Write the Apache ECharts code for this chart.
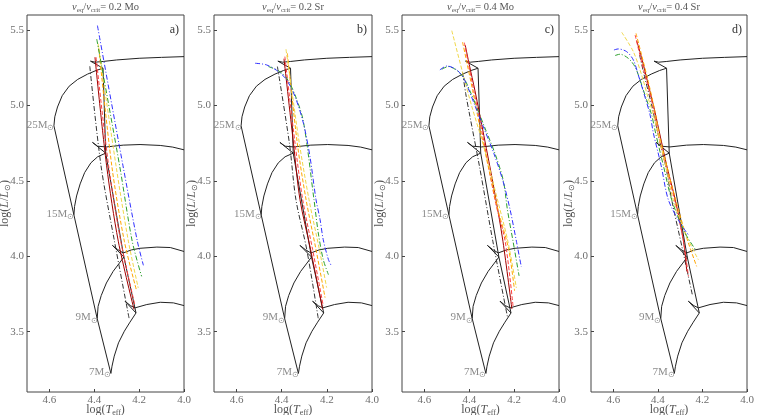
<!DOCTYPE html>
<html><head><meta charset="utf-8">
<script src="https://cdn.jsdelivr.net/npm/echarts@6/dist/echarts.min.js"></script>
<style>html,body{margin:0;padding:0;background:#fff}#c{width:760px;height:415px}</style>
</head><body><div id="c"></div>
<script>
// ---- data (log Teff, log L) ----
const xTicks = [4.0, 4.2, 4.4, 4.6];
const yTicks = [3.5, 4.0, 4.5, 5.0, 5.5];
const panelTitles = ['0.2 Mo', '0.2 Sr', '0.4 Mo', '0.4 Sr'];
const panelLetters = ['a)', 'b)', 'c)', 'd)'];
const massLabels = ['25M', '15M', '9M', '7M'];

const track25 = [[4.580,4.865],[4.576,4.925],[4.564,4.99],[4.543,5.065],[4.512,5.128],[4.474,5.173],[4.43,5.208],[4.392,5.232],[4.361,5.247],[4.417,5.294],[4.396,5.287],[4.36,5.292],[4.30,5.302],[4.2,5.313],[4.1,5.319],[4.0,5.324]];
const track15 = [[4.491,4.275],[4.488,4.33],[4.479,4.40],[4.463,4.48],[4.443,4.555],[4.415,4.62],[4.385,4.66],[4.349,4.684],[4.408,4.755],[4.385,4.73],[4.346,4.725],[4.271,4.737],[4.196,4.741],[4.106,4.735],[4.05,4.724],[4.0,4.706]];
const track9 = [[4.387,3.587],[4.383,3.668],[4.369,3.74],[4.346,3.823],[4.316,3.90],[4.288,3.955],[4.268,3.995],[4.319,4.072],[4.296,4.045],[4.271,4.022],[4.235,4.042],[4.196,4.053],[4.121,4.061],[4.061,4.058],[4.0,4.032]];
const track7 = [[4.326,3.223],[4.321,3.271],[4.311,3.338],[4.292,3.426],[4.266,3.503],[4.241,3.563],[4.214,3.624],[4.263,3.702],[4.238,3.672],[4.218,3.658],[4.166,3.680],[4.106,3.695],[4.047,3.691],[4.0,3.673]];
const zams = [[4.580,4.865],[4.491,4.275],[4.387,3.587],[4.326,3.223]];
const tams = [[4.361,5.247],[4.349,4.684],[4.268,3.995],[4.214,3.624]];

// order: black, darkred, red, orange, yellow, green, blue
const lineColors = ['#333333','#a00000','#ff4040','#ffa500','#f0d84a','#2ca02c','#3030ff'];
const lineDash = [[5,2,1,2],'solid',[4,2],[4,2],[4,2],[5,2,1,2],[5,2,1,2]];

const linesA = [
  [[4.42,5.26],[4.37,4.6],[4.31,4.1],[4.245,3.59]],
  [[4.397,5.32],[4.345,4.6],[4.293,4.1],[4.223,3.648]],
  [[4.392,5.32],[4.336,4.6],[4.282,4.1],[4.218,3.67]],
  [[4.38,5.38],[4.322,4.6],[4.266,4.1],[4.211,3.77]],
  [[4.383,5.41],[4.303,4.6],[4.248,4.1],[4.204,3.79]],
  [[4.389,5.44],[4.287,4.6],[4.231,4.1],[4.189,3.867]],
  [[4.386,5.53],[4.272,4.6],[4.208,4.1],[4.181,3.94]]
];
const linesB = [
  [[4.419,5.258],[4.366,4.75],[4.337,4.375],[4.289,4.044],[4.238,3.587]],
  [[4.39,5.31],[4.348,4.75],[4.319,4.375],[4.272,4.044],[4.219,3.649]],
  [[4.386,5.324],[4.341,4.75],[4.307,4.375],[4.263,4.044],[4.216,3.671]],
  [[4.375,5.346],[4.331,4.75],[4.292,4.375],[4.248,4.044],[4.208,3.726]],
  [[4.381,5.373],[4.36,5.15],[4.322,4.75],[4.279,4.375],[4.233,4.044],[4.201,3.792]],
  [[4.459,5.258],[4.415,5.231],[4.378,5.181],[4.341,5.07],[4.304,4.894],[4.257,4.375],[4.238,4.155],[4.216,3.978],[4.193,3.878]],
  [[4.518,5.28],[4.467,5.269],[4.415,5.225],[4.378,5.17],[4.341,5.059],[4.304,4.883],[4.275,4.662],[4.248,4.375],[4.23,4.243],[4.216,4.11],[4.193,3.978],[4.179,3.934]]
];
const linesC = [
  [[4.43,5.22],[4.416,5.08],[4.40,4.95],[4.355,4.6],[4.295,4.1],[4.23,3.6]],
  [[4.418,5.40],[4.40,5.27],[4.375,5.1],[4.335,4.8],[4.29,4.45],[4.25,4.1],[4.21,3.65]],
  [[4.422,5.417],[4.404,5.28],[4.38,5.1],[4.34,4.8],[4.282,4.35],[4.24,4.1],[4.205,3.67]],
  [[4.43,5.42],[4.41,5.28],[4.385,5.1],[4.345,4.8],[4.272,4.309],[4.225,4.05],[4.198,3.77]],
  [[4.478,5.496],[4.43,5.22],[4.39,5.0],[4.33,4.7],[4.27,4.35],[4.228,4.1],[4.19,3.79]],
  [[4.523,5.24],[4.493,5.258],[4.449,5.225],[4.42,5.17],[4.398,5.10],[4.37,5.0],[4.33,4.85],[4.285,4.68],[4.248,4.5],[4.23,4.309],[4.205,4.1],[4.178,3.87]],
  [[4.531,5.236],[4.50,5.262],[4.456,5.236],[4.427,5.185],[4.404,5.11],[4.375,5.0],[4.335,4.85],[4.29,4.68],[4.25,4.5],[4.218,4.309],[4.19,4.1],[4.168,3.93]]
];
const linesD = [
  [[4.482,5.335],[4.458,5.181],[4.428,5.004],[4.40,4.816],[4.365,4.6],[4.338,4.375],[4.29,4.05],[4.244,3.736]],
  [[4.495,5.43],[4.47,5.3],[4.445,5.15],[4.415,4.97],[4.36,4.6],[4.322,4.375],[4.285,4.1],[4.27,3.9]],
  [[4.502,5.467],[4.477,5.313],[4.45,5.159],[4.42,4.982],[4.40,4.816],[4.365,4.6],[4.325,4.375],[4.285,4.1],[4.263,3.867]],
  [[4.498,5.478],[4.473,5.335],[4.443,5.159],[4.413,4.96],[4.395,4.816],[4.36,4.6],[4.32,4.375],[4.27,4.12],[4.226,3.933]],
  [[4.562,5.485],[4.51,5.357],[4.473,5.203],[4.443,5.048],[4.42,4.938],[4.40,4.816],[4.365,4.6],[4.331,4.375],[4.27,4.13],[4.218,3.977]],
  [[4.592,5.331],[4.57,5.34],[4.533,5.313],[4.503,5.258],[4.48,5.17],[4.458,5.07],[4.428,4.938],[4.41,4.816],[4.375,4.6],[4.338,4.375],[4.28,4.16],[4.233,4.048]],
  [[4.597,5.368],[4.578,5.375],[4.54,5.357],[4.51,5.302],[4.488,5.203],[4.465,5.092],[4.435,4.938],[4.42,4.816],[4.385,4.6],[4.353,4.375],[4.30,4.22],[4.263,4.142]]
];

// ---- layout / style ----
const grids = [
  {left:27, top:15, width:157, height:377},
  {left:214, top:15, width:158, height:377},
  {left:402, top:15, width:157, height:377},
  {left:591, top:15, width:156, height:377}
];
const serif = 'Liberation Serif';
const gray = '#6e6e6e';
function richSet(size, sub, col) {
  return {
    n:{fontFamily:serif,fontSize:size,fontWeight:'normal',color:col,lineHeight:size+3},
    i:{fontFamily:serif,fontSize:size,fontWeight:'normal',fontStyle:'italic',color:col,lineHeight:size+3},
    s:{fontFamily:serif,fontSize:sub,fontWeight:'normal',color:col,lineHeight:5,verticalAlign:'bottom'}
  };
}

const tracks = [track25, track15, track9, track7];
const panels = [linesA, linesB, linesC, linesD];
const series = [];
for (let p = 0; p < 4; p++) {
  const ax = {xAxisIndex:p, yAxisIndex:p};
  tracks.concat([zams, tams]).forEach(t => series.push({
    type:'line', ...ax, data:t, symbol:'none', silent:true, z:3,
    lineStyle:{color:'#222', width:1}
  }));
  panels[p].forEach((pts,k) => series.push({
    type:'line', ...ax, data:pts, symbol:'none', smooth:0.3, silent:true, z:4,
    lineStyle:{color:lineColors[k], width:1, type:lineDash[k]}
  }));
  series.push({
    type:'scatter', ...ax, symbolSize:1, silent:true, z:5,
    itemStyle:{color:'rgba(0,0,0,0)'},
    data: zams.map((d,i)=>({value:d, name:massLabels[i]})),
    label:{show:true, position:'left', distance:0, offset:[1,-1],
      formatter: q => '{n|' + q.name + '}{s|⊙}', rich: richSet(11, 7.5, gray)}
  });
}

const titles = [];
grids.forEach((g,i) => {
  titles.push({
    text: '{i|v}{s|eq}{n|/}{i|v}{s|crit}{n|= ' + panelTitles[i] + '}',
    left: g.left + g.width/2, top: 0, textAlign:'center', padding:0,
    textStyle:{fontWeight:'normal', rich: richSet(10.5, 7, '#555')}
  });
  titles.push({
    text: panelLetters[i], left: g.left + g.width - 5, top: 24, textAlign:'right', padding:0,
    textStyle:{fontFamily:serif, fontSize:12, fontWeight:'normal', color:'#333'}
  });
});

const option = {
  animation:false,
  backgroundColor:'#fff',
  title: titles,
  grid: grids.map(g => ({...g, outerBoundsMode:'none', containLabel:false, show:true, borderColor:'#444', borderWidth:1, backgroundColor:'transparent'})),
  xAxis: grids.map((g,i) => ({
    type:'value', gridIndex:i, min:4.0, max:4.7, interval:0.2, inverse:true,
    splitLine:{show:false}, axisLine:{show:false},
    axisTick:{show:true, inside:true, length:3, customValues:xTicks, lineStyle:{color:'#444'}},
    axisLabel:{fontFamily:serif, fontSize:11, color:gray, margin:3, customValues:xTicks, formatter:v=>v.toFixed(1)},
    name:'{n|log(}{i|T}{s|eff}{n|)}', nameLocation:'middle', nameGap:10, nameMoveOverlap:false,
    nameTextStyle:{rich: richSet(12, 8, '#555')}
  })),
  yAxis: grids.map((g,i) => ({
    type:'value', gridIndex:i, min:3.1, max:5.6,
    splitLine:{show:false}, axisLine:{show:false},
    axisTick:{show:true, inside:true, length:3, customValues:yTicks, lineStyle:{color:'#444'}},
    axisLabel:{fontFamily:serif, fontSize:11, color:gray, margin:3, customValues:yTicks, formatter:v=>v.toFixed(1)},
    name:'{n|log(}{i|L}{n|/}{i|L}{s|⊙}{n|)}', nameLocation:'middle', nameGap:15, nameMoveOverlap:false,
    nameTextStyle:{rich: richSet(12, 8, '#555')}
  })),
  series: series
};
const chart = echarts.init(document.getElementById('c'), null, {renderer:'canvas'});
chart.setOption(option);
</script></body></html>
